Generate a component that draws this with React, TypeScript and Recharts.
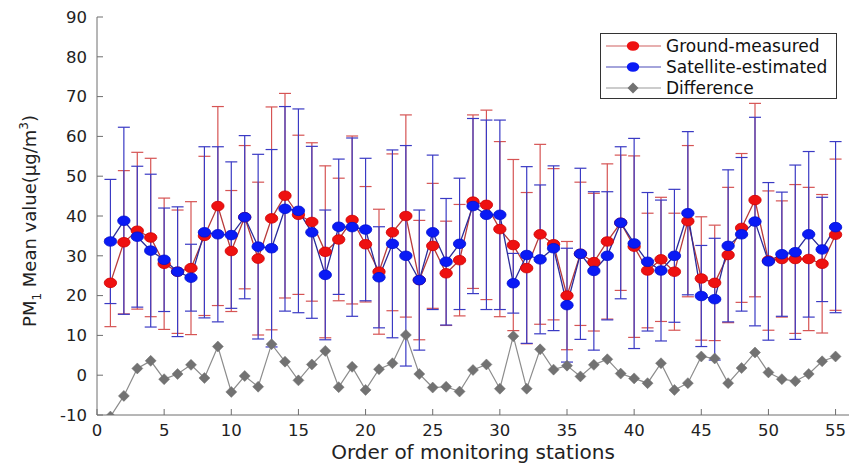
import {
  ComposedChart, Line, XAxis, YAxis, ErrorBar,
} from 'recharts'

// station order 1..55
const stations = Array.from({ length: 55 }, (_, i) => i + 1)

const groundMean = [
  23.2, 33.4, 36.3, 34.6, 28.0, 26.0, 26.9, 35.0, 42.5, 31.2,
  39.7, 29.3, 39.4, 45.1, 40.3, 38.5, 31.0, 34.1, 39.0, 32.9,
  26.0, 35.9, 40.0, 23.9, 32.5, 25.6, 28.9, 43.6, 42.8, 36.7,
  32.7, 26.9, 35.4, 32.9, 20.0, 30.5, 28.4, 33.6, 38.3, 32.3,
  26.3, 29.1, 26.0, 38.7, 24.3, 23.2, 30.2, 37.0, 44.0, 28.8,
  29.2, 29.2, 29.2, 28.0, 35.3,
]
const groundSd = [
  11.0, 18.0, 19.7, 19.9, 16.5, 15.5, 16.7, 20.0, 25.0, 15.2,
  18.0, 19.2, 28.0, 25.7, 20.0, 19.9, 21.6, 15.4, 21.1, 14.5,
  15.7, 19.7, 25.4, 15.0, 15.7, 13.1, 14.0, 21.8, 23.8, 22.0,
  21.5, 19.0, 22.6, 19.0, 13.6, 18.0, 17.3, 19.5, 17.0, 22.8,
  14.4, 15.6, 14.7, 19.0, 15.5, 14.5, 17.0, 18.7, 24.3, 17.5,
  14.6, 18.7, 18.0, 17.4, 19.0,
]
const satMean = [
  33.6, 38.8, 34.8, 31.3, 29.0, 26.0, 24.5, 35.9, 35.4, 35.2,
  39.7, 32.3, 31.9, 41.8, 41.3, 35.9, 25.2, 37.3, 37.2, 36.6,
  24.6, 33.0, 30.0, 23.9, 35.9, 28.5, 33.0, 42.5, 40.3, 40.3,
  23.1, 30.2, 29.1, 31.9, 17.6, 30.5, 26.2, 30.0, 38.3, 33.1,
  28.5, 26.3, 30.0, 40.7, 19.9, 19.1, 32.5, 35.4, 38.6, 28.6,
  30.4, 30.9, 35.4, 31.6, 37.2,
]
const satSd = [
  15.6, 23.5, 17.7, 19.2, 13.0, 16.3, 8.4, 21.5, 22.0, 18.4,
  20.5, 23.2, 24.8, 25.7, 25.6, 21.6, 16.3, 17.0, 22.4, 17.9,
  12.7, 23.6, 27.7, 17.6, 19.4, 15.9, 16.5, 22.0, 23.8, 23.8,
  7.5, 22.2, 18.7, 20.7, 14.3, 21.5, 19.9, 16.1, 19.1, 26.4,
  17.4, 17.7, 16.7, 20.5, 12.7, 15.3, 19.1, 19.3, 26.2, 19.8,
  15.6, 21.9, 20.8, 13.1, 21.5,
]
const difference = [
  -10.4, -5.2, 1.7, 3.6, -1.0, 0.3, 2.6, -0.7, 7.2, -4.2,
  -0.2, -2.9, 7.8, 3.4, -1.3, 2.7, 6.1, -3.0, 2.1, -3.7,
  1.5, 3.0, 10.1, 0.3, -3.1, -2.9, -4.1, 1.3, 2.7, -3.4,
  9.8, -3.4, 6.5, 1.4, 2.4, -0.3, 2.6, 4.0, 0.4, -0.8,
  -2.0, 3.0, -3.7, -2.0, 4.7, 4.2, -2.0, 1.8, 5.7, 0.7,
  -1.0, -1.5, 0.3, 3.5, 4.7,
]

const xTicks = [0, 5, 10, 15, 20, 25, 30, 35, 40, 45, 50, 55]
const yTicks = [-10, 0, 10, 20, 30, 40, 50, 60, 70, 80, 90]

const data = stations.map((s, i) => ({
  station: s,
  ground: groundMean[i],
  groundSd: groundSd[i],
  sat: satMean[i],
  satSd: satSd[i],
  diff: difference[i],
}))

const FONT = '"DejaVu Sans", sans-serif'
const FRAME = '#6e6e6e'

const ellipseDot = (fill: string, stroke: string) => (p: any) => {
  if (p.cx == null || p.cy == null) return <g key={p.index} />
  return <ellipse key={p.index} cx={p.cx} cy={p.cy} rx={6.2} ry={4.8} fill={fill} stroke={stroke} strokeWidth={0.8} />
}

const diamondDot = (p: any) => {
  if (p.cx == null || p.cy == null) return <g key={p.index} />
  const { cx, cy } = p
  return (
    <polygon key={p.index}
      points={`${cx},${cy - 5.5} ${cx + 5.5},${cy} ${cx},${cy + 5.5} ${cx - 5.5},${cy}`}
      fill="#727272" stroke="#727272" strokeWidth={0.5} />
  )
}

const legendRows = [
  { name: 'Ground-measured', line: '#d06060', fill: '#ee1111', kind: 'e' },
  { name: 'Satellite-estimated', line: '#4a4ab8', fill: '#0a1af5', kind: 'e' },
  { name: 'Difference', line: '#9a9a9a', fill: '#727272', kind: 'd' },
]

// legend box sits over the plot, top right
const LegendBox = () => (
  <div style={{
    position: 'absolute', left: 600, top: 33,
    width: 237, height: 66, border: '1px solid #333', background: '#fff',
    boxSizing: 'border-box',
  }}>
    <svg width={235} height={64} style={{ display: 'block' }}>
      {legendRows.map((r, i) => {
        const y = 12 + i * 21
        return (
          <g key={r.name}>
            <line x1={5} x2={60} y1={y} y2={y} stroke={r.line} strokeWidth={1.2} />
            {r.kind === 'e'
              ? <ellipse cx={32} cy={y} rx={6.2} ry={4.8} fill={r.fill} />
              : <polygon points={`32,${y - 5.5} 37.5,${y} 32,${y + 5.5} 26.5,${y}`} fill={r.fill} />}
            <text x={65} y={y} dy="0.36em" fontSize={17} fill="#111" fontFamily={FONT}>{r.name}</text>
          </g>
        )
      })}
    </svg>
  </div>
)

const YLabel = () => (
  <text transform="translate(36,221) rotate(-90)" textAnchor="middle" fontFamily={FONT} fontSize={18} fill="#222">
    PM<tspan dy={5} fontSize={12}>1</tspan>
    <tspan dy={-5}> Mean value(μg/m</tspan>
    <tspan dy={-8} fontSize={12}>3</tspan>
    <tspan dy={8}>)</tspan>
  </text>
)

const XLabel = () => (
  <text x={473} y={459} textAnchor="middle" fontFamily={FONT} fontSize={20} fill="#222">
    Order of monitoring stations
  </text>
)

export default function App() {
  return (
    <div style={{ position: 'absolute', left: 0, top: 0, width: 850, height: 464, background: '#fff' }}>
      <ComposedChart width={850} height={464} data={data}
        margin={{ top: 17, right: 1, bottom: 0, left: 0 }}>
        <XAxis dataKey="station" type="number" domain={[0, 56]} ticks={xTicks}
          allowDataOverflow height={49} interval={0}
          stroke={FRAME} tickSize={-6} tickMargin={15}
          tick={{ fontSize: 16.5, fill: '#222', fontFamily: FONT }}
          label={<XLabel />} />
        <XAxis xAxisId="top" orientation="top" dataKey="station" type="number" domain={[0, 56]}
          ticks={xTicks} allowDataOverflow height={0} stroke={FRAME} tickSize={-6} tick={false} />
        <YAxis type="number" domain={[-10, 90]} ticks={yTicks} allowDataOverflow width={97}
          interval={0} stroke={FRAME} tickSize={-6} tickMargin={16}
          tick={{ fontSize: 16.5, fill: '#222', fontFamily: FONT }}
          label={<YLabel />} />
        <YAxis yAxisId="right" orientation="right" type="number" domain={[-10, 90]} ticks={yTicks}
          allowDataOverflow width={0} stroke={FRAME} tickSize={-6} tick={false} />
        <Line dataKey="ground" name="Ground-measured" stroke="#b83a3a" strokeWidth={1.3}
          dot={ellipseDot('#ee1111', '#d00000')} isAnimationActive={false}>
          <ErrorBar dataKey="groundSd" direction="y" width={6} stroke="#d65454" strokeWidth={1.2} />
        </Line>
        <Line dataKey="sat" name="Satellite-estimated" stroke="#2b2b9a" strokeWidth={1.3}
          dot={ellipseDot('#0a1af5', '#0010d0')} isAnimationActive={false}>
          <ErrorBar dataKey="satSd" direction="y" width={6} stroke="#3a3ac4" strokeWidth={1.2} />
        </Line>
        <Line dataKey="diff" name="Difference" stroke="#8c8c8c" strokeWidth={1.2}
          dot={diamondDot} isAnimationActive={false} />
      </ComposedChart>
      <LegendBox />
    </div>
  )
}
